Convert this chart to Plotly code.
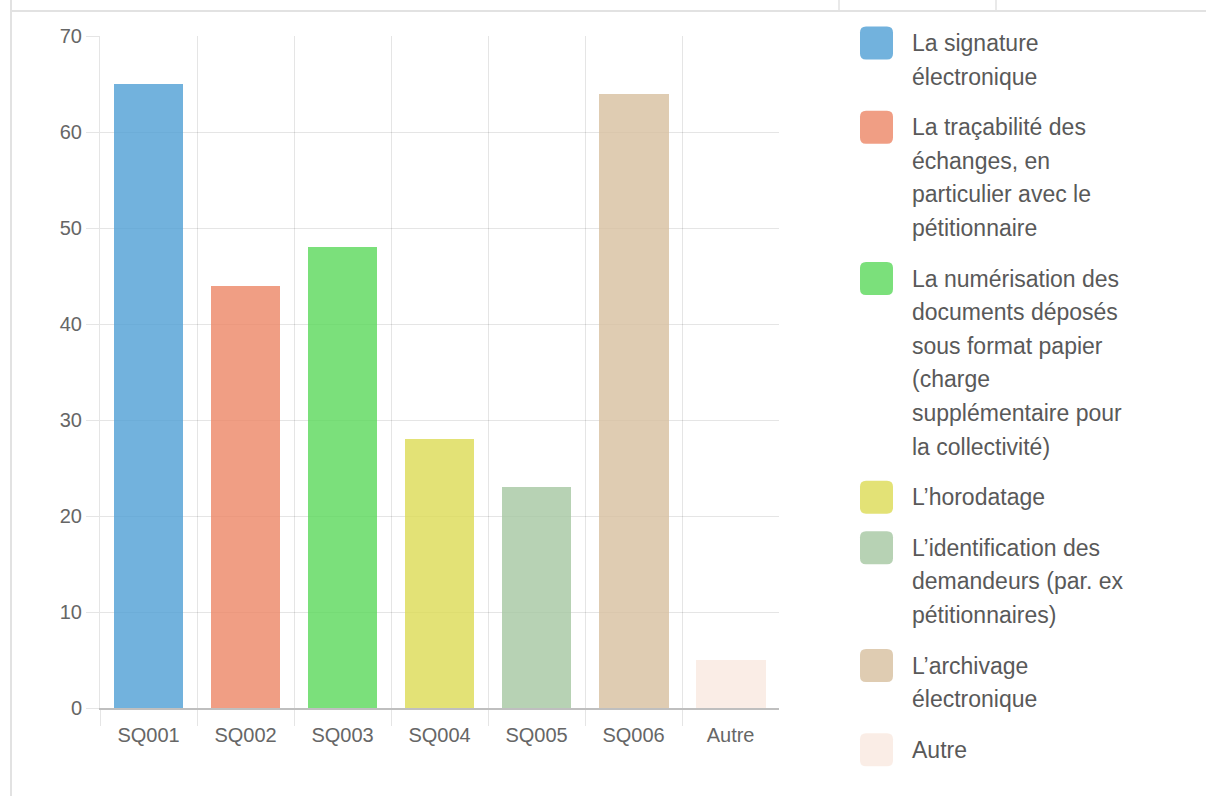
import plotly.graph_objects as go

# --- data -------------------------------------------------------------
categories = ["SQ001", "SQ002", "SQ003", "SQ004", "SQ005", "SQ006", "Autre"]
counts = [65, 44, 48, 28, 23, 64, 5]
bar_colors = [
    "rgba(79,159,213,0.8)",
    "rgba(236,134,101,0.8)",
    "rgba(90,216,90,0.8)",
    "rgba(220,219,84,0.8)",
    "rgba(165,199,161,0.8)",
    "rgba(215,191,159,0.8)",
    "rgba(249,233,224,0.8)",
]
legend_lines = [
    ["La signature", "électronique"],
    ["La traçabilité des", "échanges, en", "particulier avec le", "pétitionnaire"],
    ["La numérisation des", "documents déposés", "sous format papier",
     "(charge", "supplémentaire pour", "la collectivité)"],
    ["L’horodatage"],
    ["L’identification des", "demandeurs (par. ex", "pétitionnaires)"],
    ["L’archivage", "électronique"],
    ["Autre"],
]
y_ticks = [0, 10, 20, 30, 40, 50, 60, 70]

# --- page geometry (pixels) ------------------------------------------
W, H = 1206, 796
PL, PR, PT, PB = 100, 779, 36, 708  # plot area edges


def px(x):
    return (x - PL) / (PR - PL)


def py(y):
    return (PB - y) / (PB - PT)


GRID = "rgba(0,0,0,0.1)"
FONT = "Liberation Sans, Arial, Helvetica, sans-serif"

fig = go.Figure(
    go.Bar(
        x=categories,
        y=counts,
        width=0.72,
        marker=dict(color=bar_colors, line=dict(width=0)),
        showlegend=False,
    )
)

shapes = []
annotations = []

# surrounding frame lines
frame = "#e2e2e2"
shapes.append(dict(type="line", xref="paper", yref="paper",
                   x0=px(11), x1=px(11), y0=py(0), y1=py(H),
                   line=dict(color=frame, width=2)))
shapes.append(dict(type="line", xref="paper", yref="paper",
                   x0=px(11), x1=px(W), y0=py(11), y1=py(11),
                   line=dict(color=frame, width=2)))
for xv in (839, 996):
    shapes.append(dict(type="line", xref="paper", yref="paper",
                       x0=px(xv), x1=px(xv), y0=py(0), y1=py(11),
                       line=dict(color=frame, width=1.5)))

# custom legend: rounded colour swatch + wrapped label lines
LINE_H = 33.6
ITEM_GAP = 17
SW_X0, SW = 860, 33
R = 6
TEXT_X = 910
yc = 43
for color, lines in zip(bar_colors, legend_lines):
    x0, x1 = SW_X0, SW_X0 + SW
    y0, y1 = yc - SW / 2, yc + SW / 2
    path = (
        f"M {px(x0 + R)},{py(y0)} L {px(x1 - R)},{py(y0)} "
        f"Q {px(x1)},{py(y0)} {px(x1)},{py(y0 + R)} "
        f"L {px(x1)},{py(y1 - R)} Q {px(x1)},{py(y1)} {px(x1 - R)},{py(y1)} "
        f"L {px(x0 + R)},{py(y1)} Q {px(x0)},{py(y1)} {px(x0)},{py(y1 - R)} "
        f"L {px(x0)},{py(y0 + R)} Q {px(x0)},{py(y0)} {px(x0 + R)},{py(y0)} Z"
    )
    shapes.append(dict(type="path", xref="paper", yref="paper", path=path,
                       fillcolor=color, line=dict(width=0)))
    for i, text in enumerate(lines):
        annotations.append(dict(
            xref="paper", yref="paper", x=px(TEXT_X), y=py(yc + i * LINE_H),
            xanchor="left", yanchor="middle", showarrow=False, text=text,
            font=dict(family=FONT, size=23, color="#595959"),
        ))
    yc += len(lines) * LINE_H + ITEM_GAP

fig.update_layout(
    width=W,
    height=H,
    margin=dict(l=PL, r=W - PR, t=PT, b=H - PB, pad=0),
    paper_bgcolor="white",
    plot_bgcolor="white",
    font=dict(family=FONT, color="#666666"),
    bargap=0,
    shapes=shapes,
    annotations=annotations,
    xaxis=dict(
        type="category",
        range=[-0.5, 6.499],
        tickson="boundaries",
        showgrid=True,
        gridcolor=GRID,
        gridwidth=1,
        ticks="outside",
        ticklen=16,
        tickcolor=GRID,
        ticklabelstandoff=8,
        tickfont=dict(size=20, color="#666666", family=FONT),
        showline=True,
        linecolor="rgba(0,0,0,0.25)",
        linewidth=1.5,
        zeroline=False,
        fixedrange=True,
    ),
    yaxis=dict(
        range=[0, 70],
        tickvals=y_ticks,
        showgrid=True,
        gridcolor=GRID,
        gridwidth=1,
        ticks="outside",
        ticklen=13,
        tickcolor=GRID,
        tickfont=dict(size=20, color="#666666", family=FONT),
        showline=True,
        linecolor=GRID,
        linewidth=1,
        zeroline=False,
        fixedrange=True,
    ),
)

fig.write_html("out.html", config={"displayModeBar": False})
